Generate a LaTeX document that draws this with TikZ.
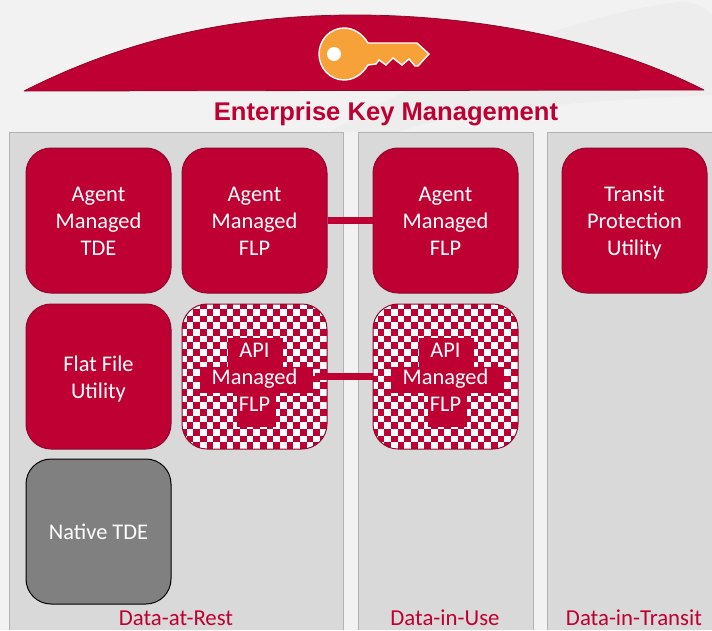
\documentclass[tikz,border=0pt]{standalone}
\usepackage{fontspec}
\setmainfont{Carlito}
\newfontfamily\titlefont{Liberation Sans}
\definecolor{ekmred}{HTML}{BE0032}
\definecolor{ekmedge}{HTML}{8C0A2E}
\definecolor{panelgray}{HTML}{D9D9D9}
\definecolor{keyorange}{HTML}{F7A239}
\newcommand{\checkerfill}[2]{%
  \begin{scope}[shift={(#1,#2)}]
    \clip[rounded corners=25pt] (0,0) rectangle (145,145);
    \fill[white] (0,0) rectangle (145,145);
    \foreach \i in {0,...,22}{\foreach \j in {0,...,22}{%
      \pgfmathtruncatemacro{\k}{mod(\i+\j,2)}%
      \ifnum\k=1
        \fill[ekmred] ({\i*6.67-2},{\j*6.67-1.67}) rectangle ({(\i+1)*6.67-2},{(\j+1)*6.67-1.67});
      \fi}}
    \fill[ekmred] (46,34) rectangle (101,63);
    \fill[ekmred] (18,63) rectangle (131,89);
    \fill[ekmred] (55,89) rectangle (94,123);
  \end{scope}}
\newcommand{\cardtext}[1]{\smash{\lower8.2pt\hbox{\begin{tabular}[c]{@{}c@{}}#1\end{tabular}}}}
\tikzset{
  x=1pt,y=-1pt,
  panel/.style={fill=panelgray,draw=black!30,line width=.6pt},
  card/.style={rectangle,rounded corners=25pt,minimum width=145pt,minimum height=145pt,inner sep=0pt,
    text=white,font=\fontsize{22.4}{27}\selectfont,line width=1pt},
  redcard/.style={card,fill=ekmred,draw=ekmedge},
  graycard/.style={card,fill=black!50,draw=black},
  checkcard/.style={card,draw=ekmedge},
  link/.style={draw=ekmred,line width=7.5pt},
  caption/.style={text=ekmred,font=\fontsize{22.8}{26}\selectfont,inner sep=0pt},
}
\begin{document}
\begin{tikzpicture}
\useasboundingbox (0,0) rectangle (712,630);
\fill[black!5] (0,0) rectangle (712,630);
% soft background swoosh
\fill[black!7] (330,132) .. controls (450,60) and (600,10) .. (680,2) .. controls (695,2) and (705,8) .. (712,15)
  -- (712,95) .. controls (600,100) and (450,110) .. (400,132) -- cycle;
% dome
\fill[ekmred,draw=ekmedge,line width=.8pt,line join=bevel] (24,91) .. controls (130,37) and (240,15) .. (355,15)
  .. controls (470,15) and (600,37) .. (704,90) -- cycle;
% key
\fill[keyorange,draw=white,line width=1.4pt,even odd rule]
  (368,43) -- (417,43) -- (429,54) -- (418,66) -- (415,66) -- (409,59) -- (402,65) -- (393,58) -- (386,65) -- (379,60) -- (376,64) -- (368,65)
  .. controls (362,75) and (353,80) .. (344,80) .. controls (330,80) and (319,68) .. (319,54)
  .. controls (319,40) and (330,28) .. (344,28) .. controls (353,28) and (362,33) .. (368,43) -- cycle;
\fill[white] (334,54) ellipse [x radius=7,y radius=7];
\node[text=ekmred,font=\titlefont\bfseries\fontsize{25.6}{30}\selectfont,inner sep=0pt] (title) at (386,113.5) {Enterprise Key Management};
% panels
\draw[panel] (9,630) -- (9,132) -- (343,132) -- (343,630);
\draw[panel] (358,630) -- (358,132) -- (533,132) -- (533,630);
\draw[panel] (547,630) -- (547,132) -- (713,132) -- (713,630);
% checkered backgrounds
\checkerfill{182}{304}
\checkerfill{373}{304}
% cards
\node[redcard] (tde) at (98.5,220.5) {\cardtext{Agent\\Managed\\TDE}};
\node[redcard] (flpa) at (254.5,220.5) {\cardtext{Agent\\Managed\\FLP}};
\node[redcard] (flpb) at (445.5,220.5) {\cardtext{Agent\\Managed\\FLP}};
\node[redcard] (transit) at (634.5,220.5) {\cardtext{Transit\\Protection\\Utility}};
\node[redcard] (flat) at (98.5,376.5) {\cardtext{Flat File\\Utility}};
\node[checkcard] (apia) at (254.5,376.5) {\cardtext{API\\Managed\\FLP}};
\node[checkcard] (apib) at (445.5,376.5) {\cardtext{API\\Managed\\FLP}};
\node[graycard] (native) at (98.5,531.5) {\cardtext{Native TDE}};
% connectors
\draw[link] (flpa) -- (flpb);
\draw[link,shorten <=-13pt] (apia.east) -- (apib.west);
% captions
\node[caption] (rest) at (176,617.8) {Data-at-Rest};
\node[caption] (use) at (445,617.8) {Data-in-Use};
\node[caption] (trans) at (634,617.8) {Data-in-Transit};
\end{tikzpicture}
\end{document}
